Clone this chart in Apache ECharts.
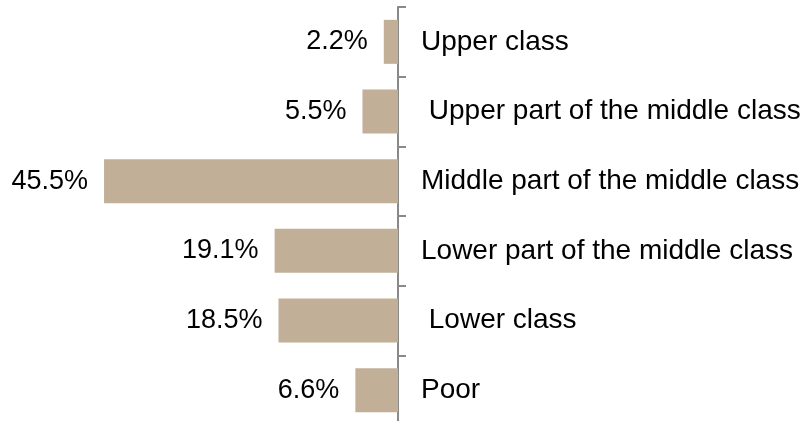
<!DOCTYPE html>
<html>
<head>
<meta charset="utf-8">
<script src="https://cdn.jsdelivr.net/npm/echarts@6/dist/echarts.min.js"></script>
<style>
  html, body { margin: 0; padding: 0; background: #ffffff; }
  #chart { width: 806px; height: 421px; }
</style>
</head>
<body>
<div id="chart"></div>
<script>
// Self-assessed social class, share of respondents (%)
const classes = [
  'Upper class',
  ' Upper part of the middle class',
  'Middle part of the middle class',
  'Lower part of the middle class',
  ' Lower class',
  'Poor'
];
const shares = [2.2, 5.5, 45.5, 19.1, 18.5, 6.6];

const chart = echarts.init(document.getElementById('chart'), null, { renderer: 'canvas' });

chart.setOption({
  animation: false,
  backgroundColor: '#ffffff',
  textStyle: { fontFamily: 'Liberation Sans, Arial, sans-serif' },
  grid: {
    left: 75, right: 408, top: 7, height: 418,
    containLabel: false,
    outerBoundsMode: 'none'
  },
  xAxis: {
    type: 'value',
    inverse: true,
    min: 0,
    max: 50,
    show: false
  },
  yAxis: {
    type: 'category',
    data: classes,
    inverse: true,
    position: 'right',
    axisLine: { show: true, onZero: false, lineStyle: { color: '#898989', width: 2 } },
    axisTick: { show: true, length: 8, lineStyle: { color: '#898989', width: 2 } },
    axisLabel: {
      color: '#000000',
      fontSize: 28,
      margin: 23,
      align: 'left',
      fontFamily: 'Liberation Sans, Arial, sans-serif'
    },
    splitLine: { show: false }
  },
  series: [{
    type: 'bar',
    data: shares,
    barWidth: 44,
    itemStyle: { color: '#c1af97' },
    label: {
      show: true,
      position: 'left',
      distance: 16,
      color: '#000000',
      fontSize: 27,
      fontFamily: 'Liberation Sans, Arial, sans-serif',
      formatter: p => p.value.toFixed(1) + '%'
    }
  }]
});
</script>
</body>
</html>
